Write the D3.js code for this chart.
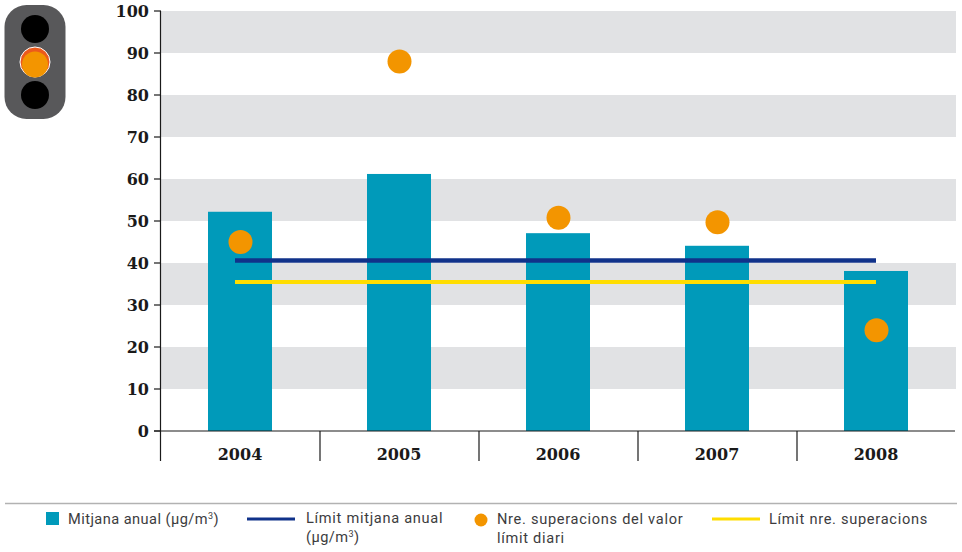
<!DOCTYPE html>
<html><head><meta charset="utf-8">
<script src="https://cdn.jsdelivr.net/npm/d3@7/dist/d3.min.js"></script>
<style>
html,body{margin:0;padding:0;background:#fff}
svg{display:block}
.tick-y,.tick-x{font-family:"DejaVu Serif",serif;font-weight:bold;fill:#1a1a1a}
.leg{font-family:"Roboto",sans-serif;font-size:14.6px;fill:#3c3c3e;letter-spacing:.7px}
</style></head><body>
<svg id="c" width="962" height="552"></svg>
<script>
const years = ["2004","2005","2006","2007","2008"];
const mitjana = [52.2, 61.2, 47.1, 44.1, 38.1];
const superacions = [45, 88, 50.8, 49.7, 24];
const limitMitjana = [40.6, 40.6, 40.6, 40.6, 40.6];
const limitSuperacions = [35.5, 35.5, 35.5, 35.5, 35.5];
const yTicks = [0,10,20,30,40,50,60,70,80,90,100];
const bandStarts = [90,70,50,30,10];

const svg = d3.select("#c");
const x = d3.scaleBand().domain(years).range([161,956]);
const y = d3.scaleLinear().domain([0,100]).range([431,11]);
const cx = d => x(d)+x.bandwidth()/2;

svg.append("g").selectAll("rect").data(bandStarts).join("rect")
  .attr("x",161).attr("width",795).attr("y",d=>y(d+10)).attr("height",d=>y(d)-y(d+10)).attr("fill","#e1e2e4");

svg.append("g").selectAll("rect").data(years).join("rect")
  .attr("x",d=>Math.floor(cx(d)-32.5)).attr("width",64)
  .attr("y",(d,i)=>y(mitjana[i])).attr("height",(d,i)=>y(0)-y(mitjana[i])).attr("fill","#009aba");

const line = d3.line().x((d,i)=>cx(years[i])-(i==0?5:0)-0.5).y(d=>y(d));
svg.append("path").attr("d",line(limitMitjana)).attr("fill","none").attr("stroke","#10328a").attr("stroke-width",4.5);
svg.append("path").attr("d",line(limitSuperacions)).attr("fill","none").attr("stroke","#ffdd00").attr("stroke-width",4);

svg.append("g").selectAll("circle").data(years).join("circle")
  .attr("cx",d=>cx(d)).attr("cy",(d,i)=>y(superacions[i])).attr("r",12).attr("fill","#f39500");

const ax = svg.append("g").attr("stroke","#1a1a1a").attr("stroke-width",1.2);
ax.append("line").attr("x1",160.5).attr("x2",160.5).attr("y1",11).attr("y2",461);
ax.append("line").attr("x1",154).attr("x2",955).attr("y1",431).attr("y2",431);
ax.selectAll(".ty").data(yTicks).join("line").attr("class","ty").attr("x1",154).attr("x2",161).attr("y1",d=>y(d)).attr("y2",d=>y(d));
ax.selectAll(".tx").data(years.slice(1)).join("line").attr("class","tx").attr("x1",d=>x(d)).attr("x2",d=>x(d)).attr("y1",431).attr("y2",461);

svg.selectAll(".tick-y").data(yTicks).join("text").attr("class","tick-y")
  .attr("x",149).attr("y",d=>y(d)+5.5).attr("text-anchor","end").attr("font-size",16).text(d=>d);
svg.selectAll(".tick-x").data(years).join("text").attr("class","tick-x")
  .attr("x",d=>cx(d)-0.5).attr("y",460).attr("text-anchor","middle").attr("font-size",16).text(d=>d);

const tl = svg.append("g");
tl.append("rect").attr("x",4.5).attr("y",5).attr("width",61).attr("height",114).attr("rx",22).attr("fill","#58585a");
tl.append("circle").attr("cx",35).attr("cy",29).attr("r",14).attr("fill","#000");
tl.append("circle").attr("cx",35).attr("cy",95).attr("r",14).attr("fill","#000");
tl.append("circle").attr("cx",35).attr("cy",62).attr("r",15).attr("fill","#ec5a1c").attr("stroke","#fff").attr("stroke-width",1);
tl.append("circle").attr("cx",35).attr("cy",64.5).attr("r",13).attr("fill","#f39500");

svg.append("line").attr("x1",5).attr("x2",957).attr("y1",503.5).attr("y2",503.5).attr("stroke","#b2b2b2").attr("stroke-width",1.3);
svg.append("rect").attr("x",46).attr("y",512).attr("width",13).attr("height",13).attr("fill","#009aba");
svg.append("line").attr("x1",247).attr("x2",295).attr("y1",519).attr("y2",519).attr("stroke","#10328a").attr("stroke-width",3);
svg.append("circle").attr("cx",481).attr("cy",520).attr("r",6.5).attr("fill","#f39500");
svg.append("line").attr("x1",712).attr("x2",760).attr("y1",519).attr("y2",519).attr("stroke","#ffdd00").attr("stroke-width",3);
function leg(px,py,t,sup,end,ls){
  const e=svg.append("text").attr("class","leg").attr("x",px).attr("y",py).text(t);
  if(ls)e.style("letter-spacing",ls);
  if(sup){e.append("tspan").attr("font-size",9).attr("dy",-5).text(sup);e.append("tspan").attr("dy",5).text(end);}
}
leg(68,524,"Mitjana anual (µg/m","3",")",".45px");
leg(306,523,"Límit mitjana anual");
leg(306,542,"(µg/m","3",")",".45px");
leg(497,524,"Nre. superacions del valor");
leg(497,543,"límit diari");
leg(769,524,"Límit nre. superacions");
</script></body></html>
